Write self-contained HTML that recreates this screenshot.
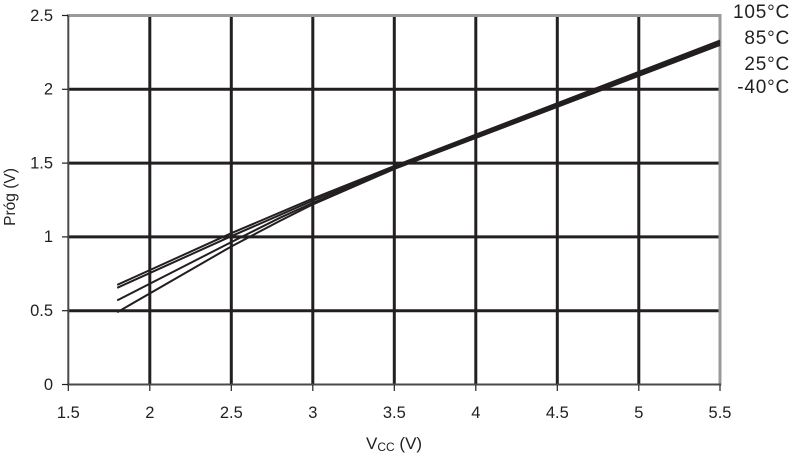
<!DOCTYPE html>
<html>
<head>
<meta charset="utf-8">
<style>
html,body{margin:0;padding:0;background:#fff;}
svg{display:block;}
text{font-family:"Liberation Sans",Arial,sans-serif;fill:#231f20;}
</style>
</head>
<body>
<svg width="792" height="455" viewBox="0 0 792 455" xmlns="http://www.w3.org/2000/svg">
  <!-- gridlines vertical -->
  <g stroke="#231f20" stroke-width="3">
    <line x1="149.8" y1="15.5" x2="149.8" y2="384.5"/>
    <line x1="231.3" y1="15.5" x2="231.3" y2="384.5"/>
    <line x1="312.8" y1="15.5" x2="312.8" y2="384.5"/>
    <line x1="394.3" y1="15.5" x2="394.3" y2="384.5"/>
    <line x1="475.8" y1="15.5" x2="475.8" y2="384.5"/>
    <line x1="557.3" y1="15.5" x2="557.3" y2="384.5"/>
    <line x1="638.8" y1="15.5" x2="638.8" y2="384.5"/>
    <!-- horizontal -->
    <line x1="68.3" y1="310.7" x2="720" y2="310.7"/>
    <line x1="68.3" y1="236.9" x2="720" y2="236.9"/>
    <line x1="68.3" y1="163.1" x2="720" y2="163.1"/>
    <line x1="68.3" y1="89.3" x2="720" y2="89.3"/>
  </g>
  <!-- frame -->
  <line x1="67" y1="15.5" x2="721.5" y2="15.5" stroke="#9a9a9a" stroke-width="3"/>
  <line x1="720" y1="14" x2="720" y2="385.5" stroke="#9a9a9a" stroke-width="3"/>
  <line x1="68.3" y1="15.5" x2="68.3" y2="385.5" stroke="#4a4a4a" stroke-width="2"/>
  <line x1="67.3" y1="384.5" x2="721" y2="384.5" stroke="#4a4a4a" stroke-width="2"/>
  <!-- ticks -->
  <g stroke="#231f20" stroke-width="1.2">
    <line x1="62" y1="384.5" x2="68" y2="384.5"/>
    <line x1="62" y1="310.7" x2="68" y2="310.7"/>
    <line x1="62" y1="236.9" x2="68" y2="236.9"/>
    <line x1="62" y1="163.1" x2="68" y2="163.1"/>
    <line x1="62" y1="89.3" x2="68" y2="89.3"/>
    <line x1="62" y1="15.5" x2="68" y2="15.5"/>
    <line x1="68.3" y1="385" x2="68.3" y2="391"/>
    <line x1="149.8" y1="385" x2="149.8" y2="391"/>
    <line x1="231.3" y1="385" x2="231.3" y2="391"/>
    <line x1="312.8" y1="385" x2="312.8" y2="391"/>
    <line x1="394.3" y1="385" x2="394.3" y2="391"/>
    <line x1="475.8" y1="385" x2="475.8" y2="391"/>
    <line x1="557.3" y1="385" x2="557.3" y2="391"/>
    <line x1="638.8" y1="385" x2="638.8" y2="391"/>
    <line x1="720" y1="385" x2="720" y2="391"/>
  </g>
  <!-- data lines -->
  <g fill="none" stroke="#231f20" stroke-width="2" stroke-linejoin="round">
    <polyline points="117.2,284.9 231.3,233.2 312.8,198.5 394.3,166.0 720,40.6"/>
    <polyline points="117.2,287.8 231.3,236.2 312.8,200.6 394.3,167.5 720,42.1"/>
    <polyline points="117.2,300.4 231.3,242.1 280.2,217.7 312.8,202.9 394.3,168.3 720,43.5"/>
    <polyline points="117.2,312.2 231.3,246.5 280.2,220.7 312.8,204.4 394.3,169.0 720,45.0"/>
  </g>
  <!-- y tick labels -->
  <g font-size="16.5" text-anchor="end">
    <text x="53" y="390">0</text>
    <text x="53" y="316">0.5</text>
    <text x="53" y="242">1</text>
    <text x="53" y="168.5">1.5</text>
    <text x="53" y="94.5">2</text>
    <text x="53" y="21">2.5</text>
  </g>
  <!-- x tick labels -->
  <g font-size="16.5" text-anchor="middle">
    <text x="68.3" y="418">1.5</text>
    <text x="149.8" y="418">2</text>
    <text x="231.3" y="418">2.5</text>
    <text x="312.8" y="418">3</text>
    <text x="394.3" y="418">3.5</text>
    <text x="475.8" y="418">4</text>
    <text x="557.3" y="418">4.5</text>
    <text x="638.8" y="418">5</text>
    <text x="720" y="418">5.5</text>
  </g>
  <!-- axis titles -->
  <text x="0" y="0" font-size="15.5" text-anchor="middle" transform="translate(15,197) rotate(-90)">Próg (V)</text>
  <text x="366" y="449" font-size="17">V<tspan font-size="12" dy="2">CC</tspan><tspan dy="-2"> (V)</tspan></text>
  <!-- legend labels -->
  <g font-size="19" text-anchor="end" letter-spacing="0.8">
    <text x="790" y="18">105°C</text>
    <text x="790" y="44">85°C</text>
    <text x="790" y="70">25°C</text>
    <text x="790" y="93">-40°C</text>
  </g>
</svg>
</body>
</html>
